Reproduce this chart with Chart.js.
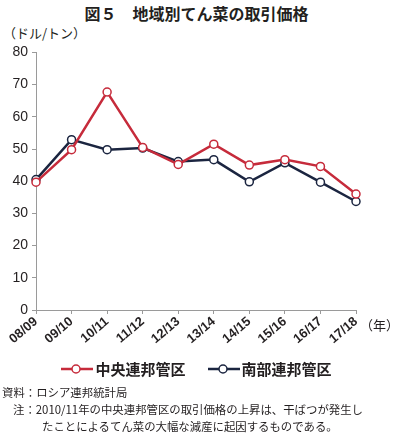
<!DOCTYPE html>
<html>
<head>
<meta charset="utf-8">
<script src="https://cdn.jsdelivr.net/npm/chart.js@4"></script>
<style>
  body { margin: 0; width: 393px; height: 435px; background: #fff; position: relative; overflow: hidden;
         font-family: "Noto Sans CJK JP", sans-serif; color: #231f20; }
  .abs { position: absolute; white-space: nowrap; }
  #title { top: 1px; left: 0; width: 393px; text-align: center; font-size: 16px; font-weight: bold; }
  #unit { top: 23px; left: 3px; font-size: 13px; }
  #year { top: 315px; left: 360px; font-size: 13px; }
  #legend { top: 358px; left: 0; width: 393px; display: flex; justify-content: center; gap: 22px; font-size: 15px; font-weight: bold; }
  #legend span { display: flex; align-items: center; gap: 2px; }
  .note { font-size: 11.4px; line-height: 17px; }
  #wrap { position: absolute; top: 40px; left: 0; width: 393px; height: 320px; }
</style>
</head>
<body>
<div id="title" class="abs">図５　地域別てん菜の取引価格</div>
<div id="unit" class="abs">（ドル/トン）</div>
<div id="wrap"><canvas id="chart"></canvas></div>
<div id="year" class="abs">（年）</div>
<div id="legend" class="abs">
  <span><svg width="32" height="12"><line x1="0" y1="6" x2="32" y2="6" stroke="#c62b3b" stroke-width="2.5"/><circle cx="15" cy="6" r="4" fill="#fff" stroke="#c62b3b" stroke-width="1.5"/></svg>中央連邦管区</span>
  <span><svg width="32" height="12"><line x1="0" y1="6" x2="32" y2="6" stroke="#1b2540" stroke-width="2.5"/><circle cx="15" cy="6" r="4" fill="#fff" stroke="#1b2540" stroke-width="1.5"/></svg>南部連邦管区</span>
</div>
<div class="abs note" style="top:384px;left:2px">資料：ロシア連邦統計局</div>
<div class="abs note" style="top:401px;left:13px">注：2010/11年の中央連邦管区の取引価格の上昇は、干ばつが発生し</div>
<div class="abs note" style="top:418px;left:42px">たことによるてん菜の大幅な減産に起因するものである。</div>
<script>
const seasons = ["08/09", "09/10", "10/11", "11/12", "12/13", "13/14", "14/15", "15/16", "16/17", "17/18"]
const central = [39.7, 49.8, 67.7, 50.5, 45.2, 51.5, 45.0, 46.7, 44.6, 36.0]
const southern = [40.5, 52.9, 49.8, 50.3, 46.1, 46.7, 39.8, 45.7, 39.7, 33.7]
const yTicks = [0, 10, 20, 30, 40, 50, 60, 70, 80]

const axisGray = "#9a9a9a"

function series(label, data, color) {
  return {
    label,
    data,
    borderColor: color,
    borderWidth: 2.5,
    pointRadius: 4,
    pointBorderWidth: 1.5,
    pointBackgroundColor: "#fff",
    pointBorderColor: color,
    tension: 0
  }
}

new Chart(document.getElementById("chart"), {
  type: "line",
  data: {
    labels: seasons,
    datasets: [
      series("中央連邦管区", central, "#c62b3b"),
      series("南部連邦管区", southern, "#1b2540")
    ]
  },
  options: {
    responsive: true,
    maintainAspectRatio: false,
    animation: false,
    layout: { padding: { top: 12, right: 37, left: 0, bottom: 0 } },
    plugins: { legend: { display: false }, tooltip: { enabled: false } },
    scales: {
      x: {
        offset: false,
        border: { color: axisGray, width: 1 },
        grid: { drawOnChartArea: false, color: axisGray, tickLength: 4 },
        ticks: {
          minRotation: 40, maxRotation: 40, padding: 0,
          color: "#231f20",
          font: { family: "Liberation Sans", size: 13, weight: "bold" }
        },
        afterFit: s => { s.height = 50 }
      },
      y: {
        min: 0, max: 80,
        afterBuildTicks: s => { s.ticks = yTicks.map(v => ({ value: v })) },
        border: { color: axisGray, width: 1 },
        grid: { drawOnChartArea: false, color: axisGray, tickLength: 4 },
        ticks: {
          padding: 4,
          color: "#231f20",
          font: { family: "Liberation Sans", size: 14 }
        },
        afterFit: s => { s.width = 36 }
      }
    }
  }
})
</script>
</body>
</html>
